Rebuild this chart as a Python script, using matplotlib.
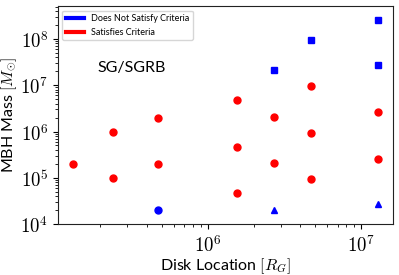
import numpy as np
import matplotlib
matplotlib.use('Agg')
import matplotlib.pyplot as plt
from matplotlib.lines import Line2D
from matplotlib.ticker import FuncFormatter

# disk locations (R_G) and MBH masses (M_sun)
sat_r = [1.33e5, 2.42e5, 2.42e5, 4.75e5, 4.75e5,
         1.54e6, 1.54e6, 1.54e6, 2.7e6, 2.7e6,
         4.7e6, 4.7e6, 4.7e6, 1.28e7, 1.28e7]
sat_m = [2e5, 1e5, 1e6, 2e5, 2e6,
         4.6e4, 4.7e5, 4.7e6, 2.1e5, 2.1e6,
         9.5e4, 9.5e5, 9.5e6, 2.6e5, 2.6e6]

circ_r = [4.75e5]
circ_m = [2e4]
tri_r = [2.7e6, 1.28e7]
tri_m = [2.05e4, 2.7e4]
sq_r = [2.7e6, 4.7e6, 1.28e7, 1.28e7]
sq_m = [2.1e7, 9.4e7, 2.6e8, 2.7e7]

plt.rcParams['mathtext.fontset'] = 'cm'
plt.rcParams['font.family'] = 'Lato'

fig = plt.figure(figsize=(3.99, 2.75), dpi=100)
ax = fig.add_axes([0.145, 0.185, 0.84, 0.793])

ms = 5
ax.plot(sat_r, sat_m, 'o', color='red', ms=ms, ls='none')
ax.plot(circ_r, circ_m, 'o', color='blue', ms=ms, ls='none')
ax.plot(tri_r, tri_m, '^', color='blue', ms=ms, ls='none')
ax.plot(sq_r, sq_m, 's', color='blue', ms=ms, ls='none')

ax.set_xscale('log')
ax.set_yscale('log')
ax.set_xlim(10**5.024, 10**7.206)
ax.set_ylim(1e4, 10**8.71)

fmt = FuncFormatter(lambda v, p: r'$10^{%d}$' % round(np.log10(v)))
ax.xaxis.set_major_formatter(fmt)
ax.yaxis.set_major_formatter(fmt)
ax.tick_params(labelsize=13.5)
for sp in ax.spines.values():
    sp.set_color('#222222')

ax.set_xlabel(r'Disk Location $[R_G]$', fontsize=11.5, labelpad=1)
ax.set_ylabel(r'MBH Mass $[M_{\odot}]$', fontsize=11.5, labelpad=1)

ax.text(0.22, 0.716, 'SG/SGRB', transform=ax.transAxes, fontsize=11.5,
        ha='center', va='center')

handles = [Line2D([], [], color='blue', lw=3),
           Line2D([], [], color='red', lw=3)]
ax.legend(handles, ['Does Not Satisfy Criteria', 'Satisfies Criteria'],
          loc='upper left', fontsize=6.5)

fig.savefig('out.png', dpi=100)
